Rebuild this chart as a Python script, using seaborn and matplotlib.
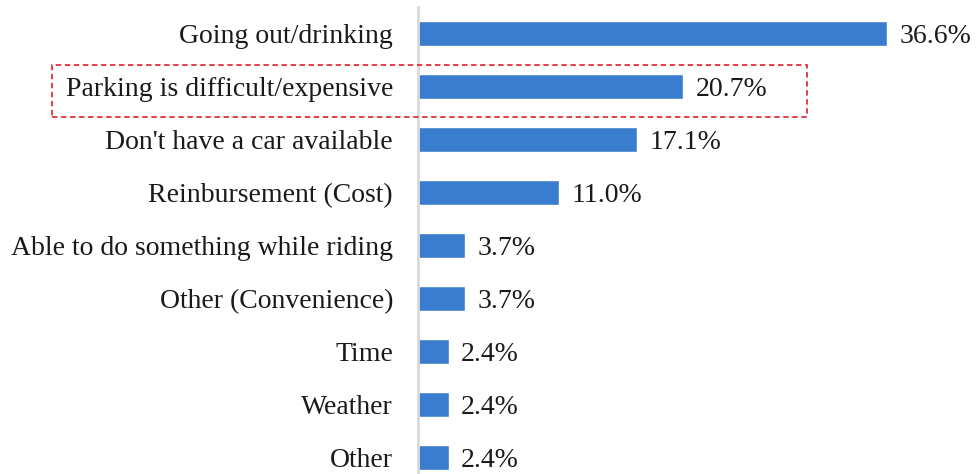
import numpy as np
import pandas as pd
import matplotlib
matplotlib.use("Agg")
import matplotlib.pyplot as plt
import matplotlib.patches as patches
import seaborn as sns

sns.set_theme(style="white")
plt.rcParams['font.family'] = ['Liberation Serif', 'DejaVu Serif']

reasons = ["Going out/drinking", "Parking is difficult/expensive",
           "Don't have a car available", "Reinbursement (Cost)",
           "Able to do something while riding", "Other (Convenience)",
           "Time", "Weather", "Other"]
shares = [36.6, 20.7, 17.1, 11.0, 3.7, 3.7, 2.4, 2.4, 2.4]

df = pd.DataFrame({"reason": reasons, "share": shares})

fig = plt.figure(figsize=(9.76, 4.74), dpi=100)
ax = fig.add_axes([418 / 976, 0, 558 / 976, 1 - 7 / 474])

sns.barplot(data=df, x="share", y="reason", color="#3A7DCE",
            width=0.47, saturation=1, ax=ax)

ax.set_xlim(0, 558 / 12.81)
ax.set_ylim(8.31, -0.5)
ax.set_xlabel("")
ax.set_ylabel("")
ax.set_xticks([])
for s in ["top", "right", "bottom"]:
    ax.spines[s].set_visible(False)
ax.spines["left"].set_color("#D9D9D9")
ax.spines["left"].set_linewidth(2)
ax.tick_params(axis="y", length=0, pad=18, labelsize=20, labelcolor="#1a1a1a")

fs = 20
for i, v in enumerate(shares):
    ax.annotate(f"{v:.1f}%", xy=(v, i), xytext=(9, -0.33 * fs),
                textcoords="offset points", va="baseline", ha="left",
                fontsize=fs, color="#1a1a1a")

# dashed highlight round the parking row
fig.patches.append(patches.Rectangle((52 / 976, 1 - 117 / 474), 755 / 976, 52 / 474,
                                     transform=fig.transFigure, fill=False,
                                     edgecolor="#E0303A", linestyle=(0, (3, 2)),
                                     linewidth=1.3))

fig.savefig("out.png", dpi=100)
